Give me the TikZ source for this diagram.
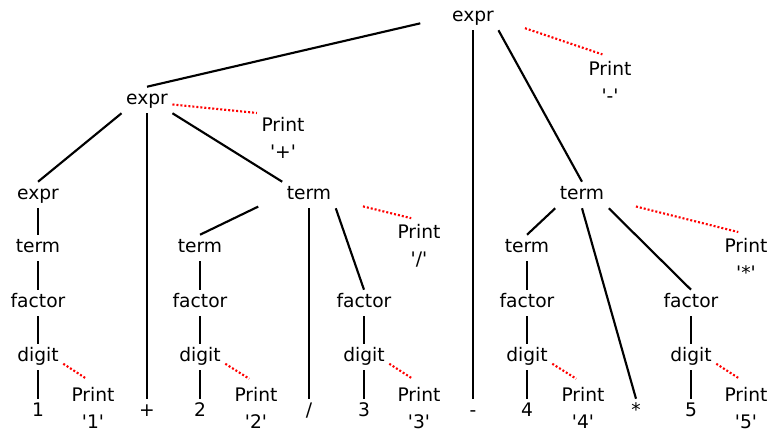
\documentclass[tikz,border=0pt]{standalone}
\usepackage{fontspec}
\setmainfont{DejaVu Sans}
\newcommand{\sq}{\textquotesingle}
\tikzset{
  sym/.style={text height=10pt, text depth=3pt, inner sep=3.25pt},
  prt/.style={align=center, inner sep=3.25pt},
  edge/.style={line width=1.6pt},
  act/.style={red, line width=1.6pt, dash pattern=on 1.5pt off 1.5pt},
}

\begin{document}
\begin{tikzpicture}[x=0.75pt,y=-0.75pt,font=\fontsize{14pt}{20pt}\selectfont]
  \useasboundingbox (0,0) rectangle (770,431);
  % inner nodes
  \node[sym] (top) at (473,17) {expr};
  \node[sym] (e1) at (147,100) {expr};
  \node[sym] (e2) at (38,195) {expr};
  \node[sym] (tm) at (309,195) {term};
  \node[sym] (tr) at (582,195) {term};
  \node[sym] (t1) at (38,248) {term};
  \node[sym] (t2) at (200,248) {term};
  \node[sym] (t4) at (527,248) {term};
  \node[sym] (f1) at (38,303) {factor};
  \node[sym] (f2) at (200,303) {factor};
  \node[sym] (f3) at (364,303) {factor};
  \node[sym] (f4) at (527,303) {factor};
  \node[sym] (f5) at (691,303) {factor};
  \node[sym] (d1) at (38,357) {digit};
  \node[sym] (d2) at (200,357) {digit};
  \node[sym] (d3) at (364,357) {digit};
  \node[sym] (d4) at (527,357) {digit};
  \node[sym] (d5) at (691,357) {digit};
  % leaves
  \node[sym] (one) at (38,412) {1};
  \node[sym] (plus) at (147,412) {+};
  \node[sym] (two) at (200,412) {2};
  \node[sym] (slash) at (309,412) {/};
  \node[sym] (three) at (364,412) {3};
  \node[sym] (minus) at (473,412) {-};
  \node[sym] (four) at (527,412) {4};
  \node[sym] (star) at (636,412) {*};
  \node[sym] (five) at (691,412) {5};
  % actions
  \node[prt] (pm) at (610,82) {Print\\\sq-\sq};
  \node[prt] (pp) at (283,138) {Print\\\sq+\sq};
  \node[prt] (ps) at (419,246) {Print\\\sq/\sq};
  \node[prt] (pa) at (746,259) {Print\\\sq*\sq};
  \node[prt] (p1) at (93,408) {Print\\\sq1\sq};
  \node[prt] (p2) at (256,408) {Print\\\sq2\sq};
  \node[prt] (p3) at (419,408) {Print\\\sq3\sq};
  \node[prt] (p4) at (583,408) {Print\\\sq4\sq};
  \node[prt] (p5) at (746,408) {Print\\\sq5\sq};

  \draw[edge, shorten <=21pt] (top.west) -- (e1.north);
  \draw[edge] (top.south) -- (minus.north);
  \draw[edge] (top.south east) -- (tr.north);
  \draw[edge] (e1.south west) -- (e2.north);
  \draw[edge] (e1.south) -- (plus.north);
  \draw[edge] (e1.south east) -- (tm.north west);
  \draw[edge, shorten <=20pt] (tm.west) -- (t2.north);
  \draw[edge] (tm.south) -- (slash.north);
  \draw[edge] (tm.south east) -- (f3.north);
  \draw[edge] (tr.south west) -- (t4.north);
  \draw[edge] (tr.south) -- (star.north);
  \draw[edge] (tr.south east) -- (f5.north);
  \draw[edge] (e2) -- (t1) -- (f1) -- (d1) -- (one);
  \draw[edge] (t2) -- (f2) -- (d2) -- (two);
  \draw[edge] (f3) -- (d3) -- (three);
  \draw[edge] (t4) -- (f4) -- (d4) -- (four);
  \draw[edge] (f5) -- (d5) -- (five);

  \draw[act, shorten <=21pt, shorten >=6pt] (top.-5) -- (pm.north);
  \draw[act] (e1.-10) -- (pp.north west);
  \draw[act, shorten <=21pt, shorten >=6pt] (tm.-10) -- (ps.north);
  \draw[act, shorten <=21pt, shorten >=6pt] (tr.-10) -- (pa.north);
  \draw[act, shorten >=6pt] (d1.-15) -- (p1.north);
  \draw[act, shorten >=6pt] (d2.-15) -- (p2.north);
  \draw[act, shorten >=6pt] (d3.-15) -- (p3.north);
  \draw[act, shorten >=6pt] (d4.-15) -- (p4.north);
  \draw[act, shorten >=6pt] (d5.-15) -- (p5.north);
\end{tikzpicture}
\end{document}
